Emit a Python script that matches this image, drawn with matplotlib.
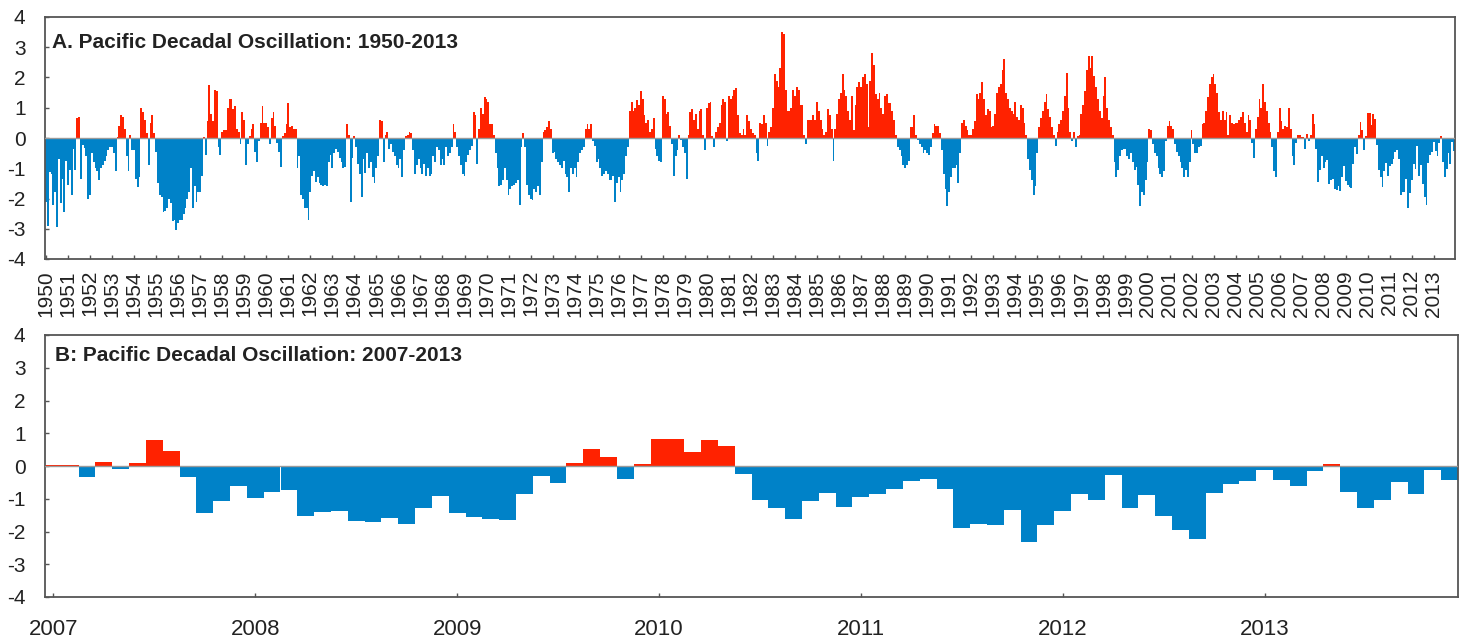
import numpy as np
import matplotlib
matplotlib.use("Agg")
import matplotlib.pyplot as plt
from matplotlib import font_manager

# Monthly PDO index values (Jan..Dec), one row per year
pdo_1950s = [
    -2.13, -2.91, -1.13, -1.20, -2.23, -1.77, -2.93, -0.70, -2.14, -1.36, -2.46, -0.76,  # 1950
    -1.54, -1.06, -1.90, -0.36, -1.05, 0.65, 0.70, -1.37, -0.24, -0.34, -0.60, -2.00,    # 1951
    -1.90, -0.50, -0.80, -1.00, -1.10, -1.40, -1.00, -0.90, -0.75, -0.60, -0.40, -0.30,  # 1952
    -0.30, -0.50, -1.10, 0.02, 0.40, 0.75, 0.70, 0.30, -0.60, -1.10, 0.10, -0.40,        # 1953
    -0.40, -1.35, -1.62, -1.30, 0.98, 0.85, 0.60, 0.15, -0.90, 0.50, 0.75, 0.15,         # 1954
    -0.45, -1.50, -1.90, -1.95, -2.45, -2.40, -2.30, -2.00, -2.15, -2.75, -2.70, -3.05,  # 1955
    -2.80, -2.70, -2.70, -2.50, -2.30, -2.00, -1.80, -1.00, -2.30, -1.60, -2.10, -1.80,  # 1956
    -1.80, -1.25, 0.03, -0.55, 0.55, 1.75, 0.80, 0.55, 1.60, 1.55, -0.30, -0.55,         # 1957
    0.20, 0.25, 0.25, 1.00, 1.30, 1.30, 0.95, 1.05, 0.30, 0.20, -0.20, 0.85,             # 1958
    0.60, -0.90, -0.20, 0.05, 0.30, 0.45, -0.45, -0.80, -0.10, 0.50, 1.05, 0.50,         # 1959
]
pdo_1960s = [
    0.50, 0.35, -0.20, 0.65, 0.85, 0.40, -0.15, -0.45, -0.95, 0.05, 0.15, 0.45,          # 1960
    1.17, 0.35, 0.40, 0.30, 0.30, -1.00, -0.60, -1.90, -2.00, -2.30, -2.30, -2.70,       # 1961
    -1.80, -1.25, -1.10, -1.45, -1.30, -1.50, -1.55, -1.60, -1.55, -1.60, -0.80, -0.55,  # 1962
    -1.00, -0.50, -0.35, -0.45, -0.65, -0.80, -1.00, -0.95, 0.45, 0.10, -2.10, -0.65,    # 1963
    0.05, -0.30, -0.85, -1.20, -1.95, -0.70, -1.15, -0.50, -1.00, -0.80, -1.30, -1.50,   # 1964
    -1.00, -0.60, 0.60, 0.55, -0.80, 0.10, 0.20, -0.35, -0.20, -0.45, -0.60, -0.90,      # 1965
    -1.00, -0.70, -1.30, -0.40, 0.05, 0.10, 0.20, 0.15, -0.40, -1.20, -0.90, -0.70,      # 1966
    -1.00, -1.20, -0.85, -1.25, -1.00, -1.25, -1.20, -0.60, -0.80, -0.30, -0.40, -0.90,  # 1967
    -0.70, -0.90, -0.30, -0.60, -0.50, -0.30, 0.45, 0.20, -0.30, -0.60, -0.90, -1.20,    # 1968
    -1.25, -0.80, -0.55, -0.40, -0.25, 0.85, 0.75, -0.85, 0.30, 1.00, 0.80, 1.35,        # 1969
]
pdo_1970s = [
    1.30, 1.20, 0.45, 0.45, 0.10, -0.50, -1.00, -1.60, -1.55, -1.40, -1.00, -1.40,       # 1970
    -1.90, -1.70, -1.60, -1.55, -1.50, -1.40, -2.20, -0.30, 0.15, -0.30, -1.55, -1.90,   # 1971
    -2.00, -2.05, -1.70, -1.80, -1.60, -1.90, -0.80, 0.20, 0.25, 0.35, 0.55, 0.30,       # 1972
    -0.50, -0.45, -0.70, -0.80, -0.90, -1.00, -0.75, -1.20, -1.30, -1.80, -1.00, -1.20,  # 1973
    -1.00, -1.30, -0.80, -0.50, -0.40, -0.30, 0.30, 0.45, 0.30, 0.45, -0.10, -0.25,      # 1974
    -0.80, -0.70, -1.00, -1.25, -1.20, -1.10, -1.20, -1.40, -1.40, -1.25, -2.10, -1.50,  # 1975
    -1.30, -1.80, -1.40, -1.20, -0.60, -0.30, 0.90, 1.20, 0.90, 1.00, 1.25, 1.10,        # 1976
    1.55, 1.30, 0.75, 0.50, 0.60, 0.20, 0.30, 0.65, -0.35, -0.60, -0.75, -0.80,          # 1977
    1.40, 1.30, 0.80, 0.85, 0.40, -0.20, -1.25, -0.60, -0.40, 0.10, -0.05, -0.30,        # 1978
    -0.50, -1.35, 0.10, 0.85, 0.95, 0.60, 0.80, 0.30, 0.90, 0.95, 0.10, -0.40,           # 1979
]
pdo_1980s = [
    1.00, 1.15, 1.20, 0.05, -0.30, 0.20, 0.35, 0.50, 1.10, 1.30, 1.20, -0.10,            # 1980
    1.40, 1.30, 1.40, 1.60, 1.65, 0.75, 0.15, 0.10, 0.30, 0.10, 0.75, 0.55,              # 1981
    0.30, 0.15, 0.10, -0.50, -0.75, 0.50, 0.45, 0.75, 0.50, -0.25, 0.20, 0.35,           # 1982
    1.00, 2.10, 1.90, 1.70, 2.30, 3.50, 3.45, 1.60, 0.90, 0.90, 1.00, 1.60,              # 1983
    1.40, 1.70, 1.60, 1.10, 1.10, 0.10, -0.20, 0.60, 0.60, 0.60, 0.75, 0.60,             # 1984
    1.20, 0.90, 0.60, 0.30, 0.10, 0.20, 0.95, 0.75, 0.30, -0.75, 0.30, 0.80,             # 1985
    1.30, 1.50, 2.10, 1.60, 1.40, 0.90, 0.60, 1.40, 0.25, 1.10, 1.70, 1.85,              # 1986
    1.70, 2.00, 2.10, 1.80, 0.35, 1.90, 2.80, 2.40, 1.45, 1.30, 1.50, 1.00,              # 1987
    0.80, 1.40, 1.45, 1.15, 1.15, 0.90, 0.60, 0.10, -0.30, -0.40, -0.60, -0.90,          # 1988
    -1.00, -0.90, -0.75, 0.35, 0.35, 0.75, 0.10, -0.05, -0.20, -0.30, -0.50, -0.40,      # 1989
]
pdo_1990s = [
    -0.50, -0.55, -0.30, 0.15, 0.45, 0.40, 0.40, 0.15, -0.40, -1.20, -1.70, -2.25,       # 1990
    -1.80, -1.30, -1.00, -1.00, -0.90, -1.50, -0.50, 0.50, 0.60, 0.40, 0.25, 0.10,       # 1991
    0.10, 0.30, 0.55, 1.45, 1.30, 1.50, 1.85, 1.30, 0.75, 0.95, 0.90, 0.35,              # 1992
    0.40, 0.80, 1.50, 1.70, 1.80, 2.25, 2.60, 1.50, 1.30, 1.00, 0.90, 0.80,              # 1993
    1.20, 0.70, 0.60, 1.10, 1.00, 0.50, 0.10, -0.70, -1.05, -1.40, -1.90, -1.60,         # 1994
    -0.50, 0.35, 0.65, 0.90, 1.20, 1.45, 0.95, 0.70, 0.35, 0.10, -0.25, 0.20,            # 1995
    0.45, 0.60, 0.90, 1.40, 2.15, 1.00, 0.20, -0.10, 0.20, -0.30, 0.05, 0.10,            # 1996
    0.80, 1.10, 1.55, 2.25, 2.70, 2.30, 2.70, 2.05, 1.70, 1.30, 0.90, 0.65,              # 1997
    1.40, 2.00, 1.00, 0.60, 0.35, 0.10, -0.80, -1.30, -1.05, -0.60, -0.40, -0.35,        # 1998
    -0.35, -0.60, -0.70, -0.50, -0.80, -1.05, -0.95, -1.55, -2.25, -1.80, -1.90, -1.40,  # 1999
]
pdo_2000_2006 = [
    -0.80, 0.30, 0.25, -0.20, -0.50, -0.60, -1.00, -1.20, -1.30, -1.10, -0.10, 0.40,     # 2000
    0.55, 0.40, 0.30, -0.20, -0.45, -0.60, -0.80, -1.00, -1.30, -1.05, -1.30, -0.80,     # 2001
    0.25, -0.20, -0.50, -0.50, -0.30, -0.25, 0.45, 0.50, 0.90, 1.35, 1.80, 2.00,         # 2002
    2.10, 1.80, 1.50, 0.85, 0.60, 0.90, 0.60, 0.85, 0.10, 0.75, 0.50, 0.45,              # 2003
    0.50, 0.50, 0.60, 0.70, 0.85, 0.50, 0.20, 0.75, 0.60, -0.15, -0.65, 0.30,            # 2004
    0.70, 1.30, 1.00, 1.80, 1.20, 0.90, 0.50, 0.20, -0.30, -1.10, -1.30, 0.20,           # 2005
    1.00, 0.55, 0.30, 0.40, 0.35, 1.00, 0.30, -0.60, -0.90, -0.15, 0.10, 0.10,           # 2006
]
# panel B (also the last seven years of panel A)
pdo_2007_2013 = [
    0.02, 0.02, -0.35, 0.13, -0.09, 0.10, 0.78, 0.47, -0.35, -1.45, -1.07, -0.60,        # 2007
    -0.99, -0.79, -0.74, -1.53, -1.40, -1.37, -1.68, -1.72, -1.60, -1.76, -1.28, -0.91,  # 2008
    -1.43, -1.57, -1.62, -1.65, -0.87, -0.31, -0.53, 0.10, 0.52, 0.27, -0.40, 0.06,      # 2009
    0.83, 0.83, 0.44, 0.78, 0.62, -0.24, -1.05, -1.28, -1.62, -1.08, -0.83, -1.24,       # 2010
    -0.94, -0.86, -0.70, -0.46, -0.41, -0.70, -1.88, -1.78, -1.79, -1.35, -2.32, -1.81,  # 2011
    -1.38, -0.85, -1.04, -0.28, -1.27, -0.89, -1.53, -1.96, -2.22, -0.82, -0.56, -0.47,  # 2012
    -0.13, -0.43, -0.61, -0.15, 0.05, -0.79, -1.28, -1.04, -0.48, -0.87, -0.13, -0.43,   # 2013
]

years_a = list(range(1950, 2014))
years_b = list(range(2007, 2014))
title_a = "A. Pacific Decadal Oscillation: 1950-2013"
title_b = "B: Pacific Decadal Oscillation: 2007-2013"

red = "#ff2200"
blue = "#0082c8"
text_col = "#222222"

# a narrow face is closest to the condensed lettering, if there is one
names = {f.name for f in font_manager.fontManager.ttflist}
narrow = "Liberation Sans Narrow" if "Liberation Sans Narrow" in names else "Liberation Sans"
plt.rcParams["font.family"] = [narrow, "DejaVu Sans"]
plt.rcParams["axes.unicode_minus"] = False


def draw_panel(ax, values, years):
    vals = np.array(values)
    x = np.arange(len(vals))
    colors = np.where(vals >= 0, red, blue)
    ax.bar(x, vals, width=1.0, color=colors, linewidth=0, zorder=2)
    ax.axhline(0, color="#9a9a9a", lw=1.0, zorder=3)

    ax.set_xlim(-0.5, len(vals) - 0.5)
    ax.set_ylim(-4, 4)
    ax.set_yticks(range(-4, 5))
    ax.set_xticks([12 * i for i in range(len(years))])
    for s in ax.spines.values():
        s.set_color("#555555")
        s.set_linewidth(1.3)
    ax.tick_params(direction="in", length=3, width=1, color="#555555",
                   labelcolor=text_col)
    ax.tick_params(axis="y", labelsize=15, pad=14)


fig = plt.figure(figsize=(14.65, 6.39), dpi=100)
ax_a = fig.add_axes([45 / 1465, 1 - 259 / 639, 1410 / 1465, 242 / 639])
ax_b = fig.add_axes([45 / 1465, 1 - 597 / 639, 1413 / 1465, 262 / 639])

pdo_all = pdo_1950s + pdo_1960s + pdo_1970s + pdo_1980s + pdo_1990s + pdo_2000_2006 + pdo_2007_2013

draw_panel(ax_a, pdo_all, years_a)
ax_a.set_xticklabels(years_a, rotation=90, fontsize=15)
ax_a.tick_params(axis="x", pad=8)
ax_a.text(0.005, 0.895, title_a, transform=ax_a.transAxes, fontsize=15,
          fontweight="bold", color=text_col, va="center", ha="left")

draw_panel(ax_b, pdo_2007_2013, years_b)
ax_b.set_xticklabels(years_b, fontsize=16)
ax_b.tick_params(axis="x", pad=16)
ax_b.text(0.007, 0.922, title_b, transform=ax_b.transAxes, fontsize=15,
          fontweight="bold", color=text_col, va="center", ha="left")

fig.savefig("out.png", dpi=100)
